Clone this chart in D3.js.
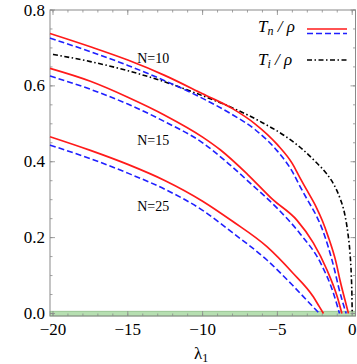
<!DOCTYPE html>
<html><head><meta charset="utf-8">
<script src="https://cdn.jsdelivr.net/npm/d3@7"></script>
<style>body{margin:0;background:#fff}svg{display:block}</style>
</head><body><svg id="c" width="357" height="364" font-family="'Liberation Serif', 'Times New Roman', 'DejaVu Serif', serif"></svg>
<script>
// ---- data ----
const xTicks = [-20, -15, -10, -5, 0];
const yTicks = [0.0, 0.2, 0.4, 0.6, 0.8];
const tn10 = [[-20.2,0.738],[-17.5,0.703],[-15,0.668],[-12.5,0.627],[-10,0.579],[-8,0.540],[-6.5,0.500],[-5,0.445],[-4,0.395],[-3.5,0.358],[-3,0.323],[-2.4,0.280],[-2,0.245],[-1.6,0.202],[-1.1,0.138],[-0.8,0.085],[-0.5,0.038],[-0.25,0]];
const tn10b = [[-20.2,0.726],[-17.5,0.690],[-15,0.654],[-12.5,0.613],[-10,0.567],[-8,0.524],[-6.5,0.485],[-5,0.428],[-4,0.374],[-3.5,0.336],[-3,0.300],[-2.4,0.258],[-2,0.222],[-1.6,0.175],[-1.2,0.118],[-0.9,0.068],[-0.6,0.025],[-0.4,0]];
const tn15 = [[-20.2,0.646],[-17.5,0.612],[-15,0.570],[-12.5,0.522],[-10,0.465],[-8.8,0.431],[-7,0.367],[-5.3,0.300],[-3.7,0.246],[-2.6,0.186],[-1.7,0.116],[-1.0,0.044],[-0.69,0]];
const tn15b = [[-20.2,0.626],[-17.5,0.591],[-15,0.552],[-12.5,0.505],[-10,0.450],[-8.5,0.403],[-6.8,0.343],[-5,0.277],[-3.5,0.211],[-2.1,0.132],[-1.25,0.053],[-0.85,0]];
const tn25 = [[-20.2,0.466],[-17.5,0.430],[-15,0.393],[-12.5,0.350],[-10,0.296],[-8,0.243],[-5.7,0.176],[-4,0.108],[-2.6,0.044],[-2.2,0.018],[-1.92,0]];
const tn25b = [[-20.2,0.444],[-17.5,0.408],[-15,0.370],[-12.5,0.327],[-10,0.272],[-8,0.213],[-5.7,0.141],[-4,0.075],[-2.8,0.025],[-2.19,0]];
const ti = [[-20,0.683],[-17.5,0.664],[-15,0.640],[-12.5,0.610],[-10,0.574],[-8,0.542],[-6,0.503],[-4.5,0.468],[-3.3,0.432],[-2.4,0.398],[-1.7,0.368],[-1.2,0.338],[-0.8,0.302],[-0.5,0.262],[-0.3,0.215],[-0.15,0.160],[-0.06,0.100],[-0.02,0.050],[0,0]];
const nLabels = ["N=10","N=15","N=25"];
const nLabelPos = [[-13.3,0.66],[-13.3,0.445],[-13.3,0.27]];
const bandRange = [-0.0066, 0.006];

// ---- layout ----
const svg = d3.select("#c");
const x = d3.scaleLinear().domain([-20.2, 0.22]).range([50, 355.5]);
const y = d3.scaleLinear().domain([-0.0066, 0.8]).range([316, 10]);
const frame = "#8a8a8a";

// band
svg.append("rect").attr("x", x(-20.2)).attr("width", x(0.22)-x(-20.2))
  .attr("y", y(bandRange[1])).attr("height", y(bandRange[0])-y(bandRange[1]))
  .attr("fill", "#b6dfb1").attr("stroke", "#86b880").attr("stroke-width", 0.7);

// ticks on all sides (inward)
const g = svg.append("g");
const xMinor = d3.range(-20, 1, 1);
const yMinor = d3.range(0, 0.801, 0.05);
function tickLines(vals, len, horiz) {
  vals.forEach(v => {
    if (horiz) {
      g.append("line").attr("x1", x(v)).attr("x2", x(v)).attr("y1", y.range()[0]).attr("y2", y.range()[0]-len).attr("stroke", frame).attr("stroke-width",0.8);
      g.append("line").attr("x1", x(v)).attr("x2", x(v)).attr("y1", y.range()[1]).attr("y2", y.range()[1]+len).attr("stroke", frame).attr("stroke-width",0.8);
    } else {
      g.append("line").attr("y1", y(v)).attr("y2", y(v)).attr("x1", x.range()[0]).attr("x2", x.range()[0]+len).attr("stroke", frame).attr("stroke-width",0.8);
      g.append("line").attr("y1", y(v)).attr("y2", y(v)).attr("x1", x.range()[1]).attr("x2", x.range()[1]-len).attr("stroke", frame).attr("stroke-width",0.8);
    }
  });
}
tickLines(xMinor, 2.5, true);
tickLines(xTicks, 5, true);
tickLines(yMinor, 2.5, false);
tickLines(yTicks, 5, false);

// frame
svg.append("rect").attr("x", x.range()[0]).attr("y", y.range()[1])
  .attr("width", x.range()[1]-x.range()[0]).attr("height", y.range()[0]-y.range()[1])
  .attr("fill", "none").attr("stroke", frame).attr("stroke-width", 1);

// tick labels
xTicks.forEach(v => {
  svg.append("text").attr("x", x(v)).attr("y", 335).attr("text-anchor","middle")
    .attr("font-size", 17).text(v < 0 ? "\u2212" + Math.abs(v) : String(v));
});
yTicks.forEach(v => {
  svg.append("text").attr("x", 45).attr("y", y(v)+5.5).attr("text-anchor","end")
    .attr("font-size", 17).text(v.toFixed(1));
});
svg.append("text").attr("x", x(-10.1)).attr("y", 359).attr("text-anchor","middle").attr("font-size",17)
  .html('λ<tspan font-size="12" dy="3">1</tspan>');

// curves
const line = d3.line().x(d => x(d[0])).y(d => y(d[1])).curve(d3.curveMonotoneX);
const plot = svg.append("g");
function draw(data, color, dash, w) {
  plot.append("path").attr("d", line(data)).attr("fill","none").attr("stroke", color)
    .attr("stroke-width", w).attr("stroke-dasharray", dash);
}
const blueDash = "6,3";
const dashDot = "5,2.5,1.5,2.5";
draw(ti, "#000", dashDot, 1.6);
[tn10b, tn15b, tn25b].forEach(d => draw(d, "#1f1fff", blueDash, 1.6));
[tn10, tn15, tn25].forEach(d => draw(d, "#ff1a1a", null, 1.7));

// N labels
nLabels.forEach((t, i) => {
  svg.append("text").attr("x", x(nLabelPos[i][0])).attr("y", y(nLabelPos[i][1]))
    .attr("text-anchor","middle").attr("font-size",14).text(t);
});

// legend
svg.append("text").attr("x", 258).attr("y", 32).attr("font-size",17).attr("font-style","italic")
  .html('T<tspan font-size="12" dy="3">n</tspan><tspan dy="-3"> / ρ</tspan>');
svg.append("text").attr("x", 258).attr("y", 65).attr("font-size",17).attr("font-style","italic")
  .html('T<tspan font-size="12" dy="3">i</tspan><tspan dy="-3"> / ρ</tspan>');
svg.append("line").attr("x1",307).attr("x2",347).attr("y1",29).attr("y2",29).attr("stroke","#ff1a1a").attr("stroke-width",1.7);
svg.append("line").attr("x1",307).attr("x2",347).attr("y1",33.5).attr("y2",33.5).attr("stroke","#1f1fff").attr("stroke-width",1.6).attr("stroke-dasharray",blueDash);
svg.append("line").attr("x1",307).attr("x2",347).attr("y1",60).attr("y2",60).attr("stroke","#000").attr("stroke-width",1.6).attr("stroke-dasharray",dashDot);
</script></body></html>
